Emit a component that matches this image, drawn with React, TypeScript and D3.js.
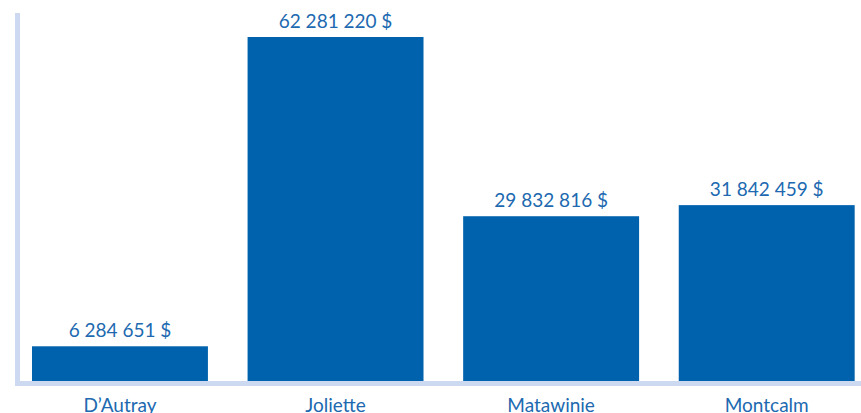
import React from "react";
import * as d3 from "d3";

const categories: string[] = ["D’Autray", "Joliette", "Matawinie", "Montcalm"];
const values: number[] = [6284651, 62281220, 29832816, 31842459];

const W = 861;
const H = 413;
const baseY = 381;
const topY = 37;

const locale = d3.formatLocale({
  decimal: ",",
  thousands: "\u00a0",
  grouping: [3],
  currency: ["", "\u202f$"],
});
const fmt = locale.format("$,.0f");

export default function App() {
  const step = 647 / 3;
  const x = d3
    .scaleBand<string>()
    .domain(categories)
    .range([12, 12 + step * 4])
    .paddingInner((step - 176) / step)
    .paddingOuter(20 / step);
  const y = d3
    .scaleLinear()
    .domain([0, d3.max(values) as number])
    .range([baseY, topY]);

  const font = "Lato, 'Open Sans', sans-serif";
  const textColor = "#2069b0";

  return (
    <svg
      width={W}
      height={H}
      style={{ position: "absolute", left: 0, top: 0, display: "block" }}
    >
      <rect x={0} y={0} width={W} height={H} fill="#ffffff" />
      {categories.map((c, i) => (
        <g key={c}>
          <rect
            x={x(c)}
            y={y(values[i])}
            width={x.bandwidth()}
            height={baseY - y(values[i])}
            fill="#0062ad"
          />
          <text
            x={(x(c) as number) + x.bandwidth() / 2}
            y={y(values[i]) - 9}
            textAnchor="middle"
            fontFamily={font}
            fontSize={19}
            fill={textColor}
          >
            {fmt(values[i])}
          </text>
          <text
            x={(x(c) as number) + x.bandwidth() / 2}
            y={412}
            textAnchor="middle"
            fontFamily={font}
            fontSize={19}
            fill={textColor}
          >
            {c}
          </text>
        </g>
      ))}
      <rect x={15} y={13} width={5} height={373} fill="#cdd9f0" />
      <rect x={15} y={381} width={846} height={5} fill="#cdd9f0" />
    </svg>
  );
}
